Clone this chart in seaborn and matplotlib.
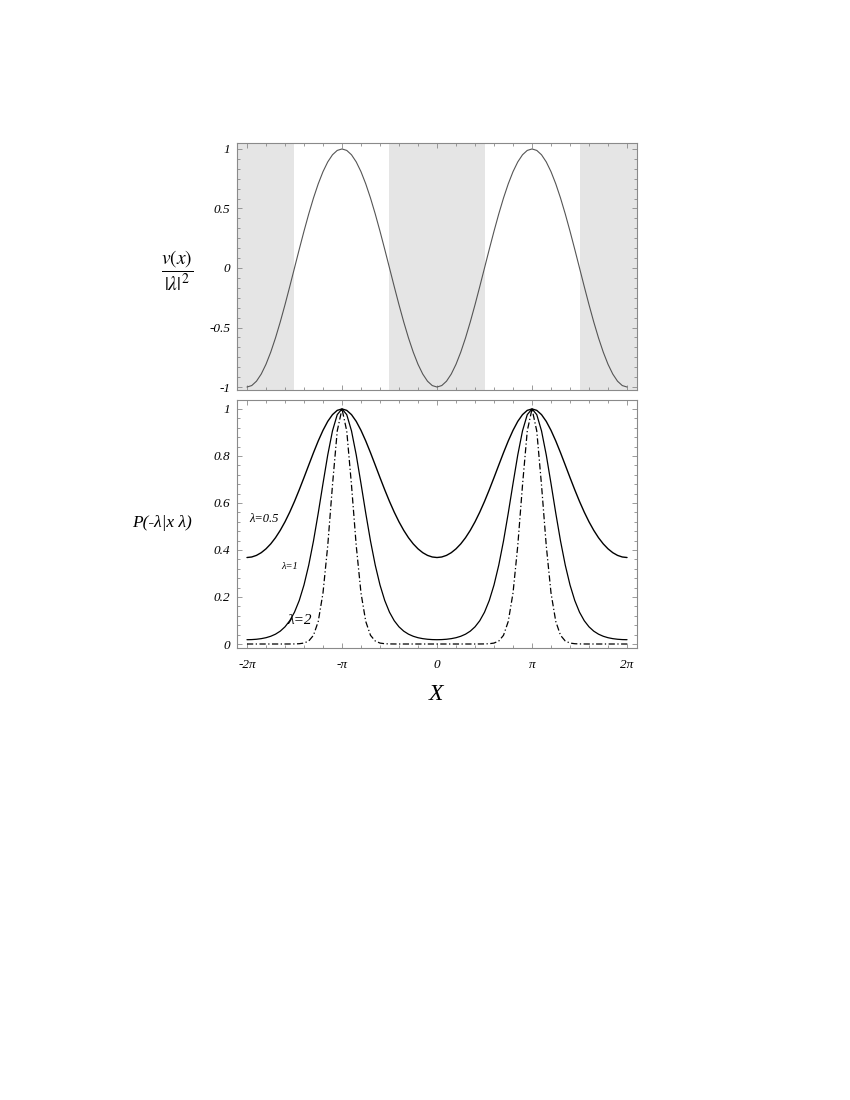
import numpy as np
import pandas as pd
import matplotlib
matplotlib.use("Agg")
import matplotlib.pyplot as plt
from matplotlib.ticker import FixedLocator, FixedFormatter, MultipleLocator
import seaborn as sns

# x positions in units of pi
X_PI = [-2.00, -1.95, -1.90, -1.85, -1.80, -1.75, -1.70, -1.65, -1.60, -1.55,
        -1.50, -1.45, -1.40, -1.35, -1.30, -1.25, -1.20, -1.15, -1.10, -1.05,
        -1.00, -0.95, -0.90, -0.85, -0.80, -0.75, -0.70, -0.65, -0.60, -0.55,
        -0.50, -0.45, -0.40, -0.35, -0.30, -0.25, -0.20, -0.15, -0.10, -0.05,
        0.00, 0.05, 0.10, 0.15, 0.20, 0.25, 0.30, 0.35, 0.40, 0.45,
        0.50, 0.55, 0.60, 0.65, 0.70, 0.75, 0.80, 0.85, 0.90, 0.95,
        1.00, 1.05, 1.10, 1.15, 1.20, 1.25, 1.30, 1.35, 1.40, 1.45,
        1.50, 1.55, 1.60, 1.65, 1.70, 1.75, 1.80, 1.85, 1.90, 1.95, 2.00]

# top panel: v(x)/|lambda|^2
V_X = [-1.0, -0.9877, -0.9511, -0.8910, -0.8090, -0.7071, -0.5878, -0.4540, -0.3090, -0.1564,
       0.0, 0.1564, 0.3090, 0.4540, 0.5878, 0.7071, 0.8090, 0.8910, 0.9511, 0.9877,
       1.0, 0.9877, 0.9511, 0.8910, 0.8090, 0.7071, 0.5878, 0.4540, 0.3090, 0.1564,
       0.0, -0.1564, -0.3090, -0.4540, -0.5878, -0.7071, -0.8090, -0.8910, -0.9511, -0.9877,
       -1.0, -0.9877, -0.9511, -0.8910, -0.8090, -0.7071, -0.5878, -0.4540, -0.3090, -0.1564,
       0.0, 0.1564, 0.3090, 0.4540, 0.5878, 0.7071, 0.8090, 0.8910, 0.9511, 0.9877,
       1.0, 0.9877, 0.9511, 0.8910, 0.8090, 0.7071, 0.5878, 0.4540, 0.3090, 0.1564,
       0.0, -0.1564, -0.3090, -0.4540, -0.5878, -0.7071, -0.8090, -0.8910, -0.9511, -0.9877, -1.0]

# bottom panel: P for three lambda values
P_05 = [0.3679, 0.3702, 0.3770, 0.3885, 0.4048, 0.4259, 0.4521, 0.4834, 0.5197, 0.5609,
        0.6065, 0.6559, 0.7079, 0.7611, 0.8138, 0.8638, 0.9089, 0.9470, 0.9758, 0.9939,
        1.0, 0.9939, 0.9758, 0.9470, 0.9089, 0.8638, 0.8138, 0.7611, 0.7079, 0.6559,
        0.6065, 0.5609, 0.5197, 0.4834, 0.4521, 0.4259, 0.4048, 0.3885, 0.3770, 0.3702,
        0.3679, 0.3702, 0.3770, 0.3885, 0.4048, 0.4259, 0.4521, 0.4834, 0.5197, 0.5609,
        0.6065, 0.6559, 0.7079, 0.7611, 0.8138, 0.8638, 0.9089, 0.9470, 0.9758, 0.9939,
        1.0, 0.9939, 0.9758, 0.9470, 0.9089, 0.8638, 0.8138, 0.7611, 0.7079, 0.6559,
        0.6065, 0.5609, 0.5197, 0.4834, 0.4521, 0.4259, 0.4048, 0.3885, 0.3770, 0.3702, 0.3679]

P_1 = [0.0183, 0.0188, 0.0202, 0.0228, 0.0268, 0.0329, 0.0418, 0.0546, 0.0730, 0.0990,
       0.1353, 0.1850, 0.2511, 0.3355, 0.4385, 0.5567, 0.6825, 0.8041, 0.9068, 0.9757,
       1.0, 0.9757, 0.9068, 0.8041, 0.6825, 0.5567, 0.4385, 0.3355, 0.2511, 0.1850,
       0.1353, 0.0990, 0.0730, 0.0546, 0.0418, 0.0329, 0.0268, 0.0228, 0.0202, 0.0188,
       0.0183, 0.0188, 0.0202, 0.0228, 0.0268, 0.0329, 0.0418, 0.0546, 0.0730, 0.0990,
       0.1353, 0.1850, 0.2511, 0.3355, 0.4385, 0.5567, 0.6825, 0.8041, 0.9068, 0.9757,
       1.0, 0.9757, 0.9068, 0.8041, 0.6825, 0.5567, 0.4385, 0.3355, 0.2511, 0.1850,
       0.1353, 0.0990, 0.0730, 0.0546, 0.0418, 0.0329, 0.0268, 0.0228, 0.0202, 0.0188, 0.0183]

P_2 = [0.0, 0.0, 0.0, 0.0, 0.0, 0.0, 0.0, 0.0, 0.0, 0.0001,
       0.0003, 0.0012, 0.0040, 0.0127, 0.0370, 0.0960, 0.2170, 0.4181, 0.6762, 0.9063,
       1.0, 0.9063, 0.6762, 0.4181, 0.2170, 0.0960, 0.0370, 0.0127, 0.0040, 0.0012,
       0.0003, 0.0001, 0.0, 0.0, 0.0, 0.0, 0.0, 0.0, 0.0, 0.0,
       0.0, 0.0, 0.0, 0.0, 0.0, 0.0, 0.0, 0.0, 0.0, 0.0001,
       0.0003, 0.0012, 0.0040, 0.0127, 0.0370, 0.0960, 0.2170, 0.4181, 0.6762, 0.9063,
       1.0, 0.9063, 0.6762, 0.4181, 0.2170, 0.0960, 0.0370, 0.0127, 0.0040, 0.0012,
       0.0003, 0.0001, 0.0, 0.0, 0.0, 0.0, 0.0, 0.0, 0.0, 0.0, 0.0]

# shaded regions where v(x) < 0, in units of pi
BANDS_PI = [(-2.2, -1.5), (-0.5, 0.5), (1.5, 2.2)]

X_TICKS_PI = [-2, -1, 0, 1, 2]
X_TICK_LABELS = ["-2\u03c0", "-\u03c0", "0", "\u03c0", "2\u03c0"]
TOP_Y_TICKS = [-1, -0.5, 0, 0.5, 1]
TOP_Y_LABELS = ["-1", "-0.5", "0", "0.5", "1"]
BOT_Y_TICKS = [0, 0.2, 0.4, 0.6, 0.8, 1]
BOT_Y_LABELS = ["0", "0.2", "0.4", "0.6", "0.8", "1"]

CURVES = [
    ("\u03bb=0.5", P_05, "-", 1.0),
    ("\u03bb=1", P_1, "-", 0.9),
    ("\u03bb=2", P_2, (0, (5, 2, 1, 2)), 0.9),
]

# ---------------------------------------------------------------------------
sns.set_style("ticks")
plt.rcParams["font.family"] = ["Liberation Serif", "DejaVu Serif"]
plt.rcParams["mathtext.fontset"] = "stix"
plt.rcParams["text.color"] = "black"
plt.rcParams["xtick.labelcolor"] = "black"
plt.rcParams["ytick.labelcolor"] = "black"

x = np.array(X_PI) * np.pi
frame = "#8a8a8a"

fig = plt.figure(figsize=(8.5, 11), dpi=100)
ax_top = fig.add_axes([237 / 850, 1 - 390 / 1100, 400 / 850, 247 / 1100])
ax_bot = fig.add_axes([237 / 850, 1 - 648 / 1100, 400 / 850, 248 / 1100])

xlim = (-2.105 * np.pi, 2.105 * np.pi)

# top panel
for a, b in BANDS_PI:
    ax_top.axvspan(a * np.pi, b * np.pi, color="#e5e5e5", lw=0, zorder=0)
sns.lineplot(x=x, y=V_X, ax=ax_top, color="#555555", linewidth=0.8)
ax_top.set_xlim(*xlim)
ax_top.set_ylim(-1.025, 1.05)
ax_top.yaxis.set_major_locator(FixedLocator(TOP_Y_TICKS))
ax_top.yaxis.set_major_formatter(FixedFormatter(TOP_Y_LABELS))
ax_top.yaxis.set_minor_locator(MultipleLocator(1 / 12))

# bottom panel
df = pd.concat([pd.DataFrame({"x": x, "P": vals, "lam": name})
                for name, vals, _, _ in CURVES])
for name, _, ls, lw in CURVES:
    sub = df[df["lam"] == name]
    sns.lineplot(data=sub, x="x", y="P", ax=ax_bot, color="black",
                 linewidth=lw, linestyle=ls)
ax_bot.set_xlim(*xlim)
ax_bot.set_ylim(-0.017, 1.038)
ax_bot.yaxis.set_major_locator(FixedLocator(BOT_Y_TICKS))
ax_bot.yaxis.set_major_formatter(FixedFormatter(BOT_Y_LABELS))
ax_bot.yaxis.set_minor_locator(MultipleLocator(0.04))

ax_bot.text(-1.821 * np.pi, 0.532, "\u03bb=0.5", fontsize=9, style="italic",
            ha="center", va="center")
ax_bot.text(-1.547 * np.pi, 0.328, "\u03bb=1", fontsize=7.5, style="italic",
            ha="center", va="center")
ax_bot.text(-1.442 * np.pi, 0.102, "\u03bb=2", fontsize=11, style="italic",
            ha="center", va="center")

for ax in (ax_top, ax_bot):
    ax.xaxis.set_major_locator(FixedLocator([t * np.pi for t in X_TICKS_PI]))
    ax.xaxis.set_minor_locator(MultipleLocator(np.pi / 5))
    ax.set_xlabel("")
    ax.set_ylabel("")
    for sp in ax.spines.values():
        sp.set_visible(True)
        sp.set_color(frame)
        sp.set_linewidth(0.8)
    ax.tick_params(which="both", direction="in", top=True, right=True,
                   color=frame, width=0.6)
    ax.tick_params(which="major", length=3.5, labelsize=9.5, pad=5)
    ax.tick_params(which="minor", length=2)
    for lab in ax.get_yticklabels():
        lab.set_fontstyle("italic")

ax_top.tick_params(labelbottom=False)
ax_bot.xaxis.set_major_formatter(FixedFormatter(X_TICK_LABELS))
ax_bot.tick_params(axis="x", pad=8)
for lab in ax_bot.get_xticklabels():
    lab.set_fontstyle("italic")

fig.text(177 / 850, 1 - 271 / 1100, r"$\dfrac{v(x)}{|\lambda|^2}$",
         fontsize=14, ha="center", va="center")
fig.text(162 / 850, 1 - 523 / 1100, "P(-\u03bb|x \u03bb)", fontsize=12.5,
         style="italic", ha="center", va="center")
fig.text(436 / 850, 1 - 694 / 1100, "X", fontsize=17, style="italic",
         ha="center", va="center")

fig.savefig("out.png", dpi=100)
